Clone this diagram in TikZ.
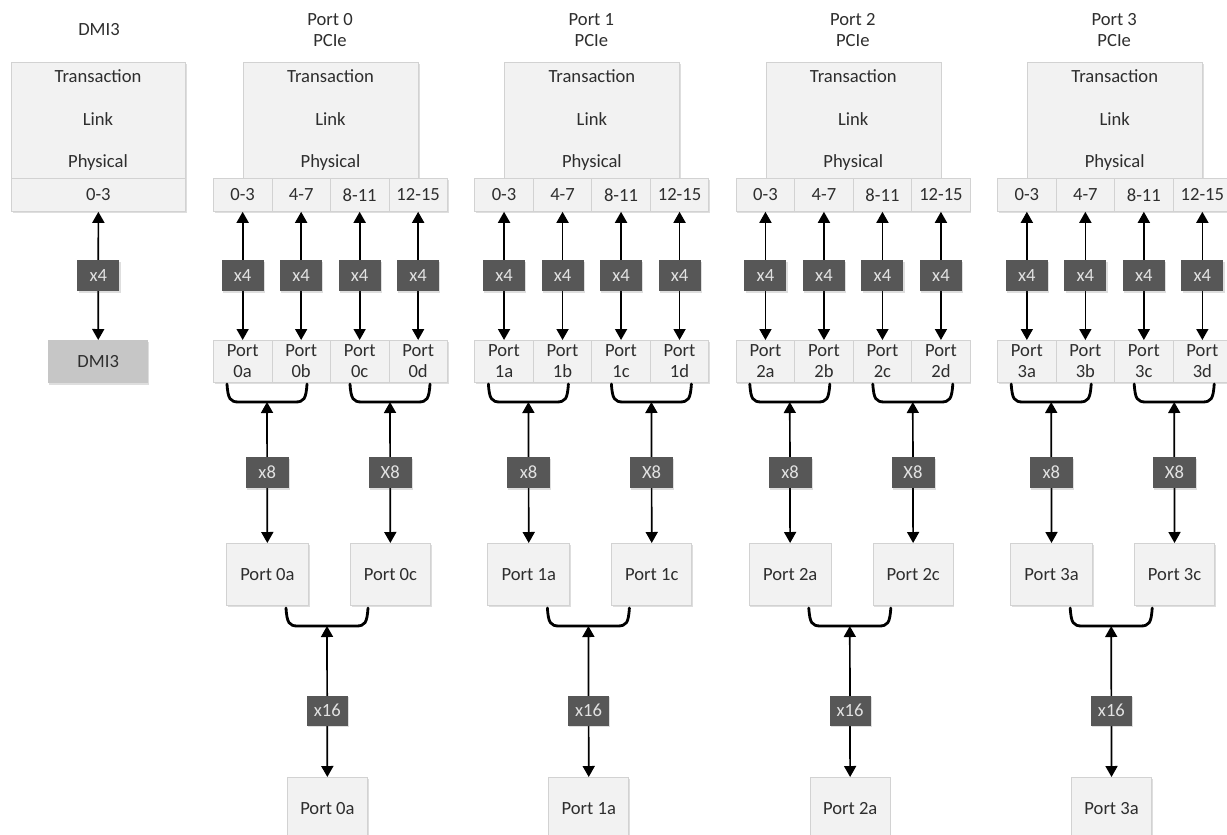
\documentclass[tikz,border=0pt]{standalone}
\usepackage{fontspec}
\setmainfont{Carlito}
\usetikzlibrary{arrows.meta,shadows,calc}
\definecolor{boxfill}{HTML}{F2F2F2}
\definecolor{boxline}{HTML}{D2D2D2}
\definecolor{tagfill}{HTML}{575757}
\definecolor{tagtext}{HTML}{E2E2E2}
\definecolor{dmifill}{HTML}{C6C6C6}
\definecolor{txt}{HTML}{2E2E2E}
% bracket joining two lanes: left x, right x, top y
\newcommand\brkt[3]{%
  \draw[brace] (#1,#3) .. controls ({#1+1},{#3+15}) and ({#1+3},{#3+18}) .. ({#1+12},{#3+18})
    -- ({#2-12},{#3+18}) .. controls ({#2-3},{#3+18}) and ({#2-1},{#3+15}) .. (#2,#3);}
\begin{document}
\begin{tikzpicture}[x=1pt,y=-1pt,
  every node/.style={text=txt, font=\fontsize{18.6}{21}\selectfont},
  title/.style={inner sep=0pt},
  shade/.style={drop shadow={opacity=0.18, shadow xshift=1.2pt, shadow yshift=-1.6pt, fill=black!70}},
  stack/.style={draw=boxline, fill=boxfill, line width=0.8pt, inner sep=0pt, anchor=north west, shade},
  cell/.style={draw=boxline, fill=boxfill, line width=0.8pt, inner sep=0pt, anchor=north west, shade},
  dmibox/.style={fill=dmifill, inner sep=0pt, anchor=north west, shade},
  tag/.style={fill=tagfill, text=tagtext, minimum width=42pt, minimum height=31pt, inner sep=0pt, shade},
  link/.style={line width=1.7pt, black, {Triangle[length=11pt,width=12pt]}-{Triangle[length=11pt,width=12pt]}},
  brace/.style={line width=2.8pt, black, line cap=round}
]
\useasboundingbox (0,0) rectangle (1227,835);
\fill[white] (0,0) rectangle (1227,835);

% DMI3 column
\node[title] (dt) at (99,30) {DMI3};
\node[stack, minimum width=174pt, minimum height=116pt] (ds) at (11,62) {};
\node (dtr) at (98,76) {Transaction};
\node (dlk) at (98,119) {Link};
\node (dph) at (98,163) {Physical};
\node[cell, minimum width=174pt, minimum height=33pt] (dl) at (11,178) {0-3};
\node[dmibox, minimum width=100pt, minimum height=43pt] (db) at (48,340) {DMI3};
\draw[link] (dl) -- (db);
\node[tag] (dx) at ($(dl.south)!0.5!(db.north)$) {x4};

% PCIe ports 0-3
\foreach \k in {0,...,3} {
\begin{scope}[xshift={\k*261.4pt}]
  \node[title] (pt\k) at (330,20) {Port \k};
  \node[title] (pc\k) at (330,41) {PCIe};
  \node[stack, minimum width=175pt, minimum height=116pt] (st\k) at (243,62) {};
  \node (tr\k) at (330.5,76) {Transaction};
  \node (lk\k) at (330.5,119) {Link};
  \node (ph\k) at (330.5,163) {Physical};
  \foreach \j/\lab [count=\i from 0] in {a/0-3,b/4-7,c/8-11,d/12-15} {
    \node[cell, minimum width=58.5pt, minimum height=33pt] (ln\k\j) at ({213+58.5*\i},178) {\lab};
    \node[cell, minimum width=58.5pt, minimum height=42pt, align=center] (pp\k\j) at ({213+58.5*\i},340) {Port\\\k\j};
    \draw[link] (ln\k\j) -- (pp\k\j);
    \node[tag] (xq\k\j) at ($(ln\k\j.south)!0.5!(pp\k\j.north)$) {x4};
  }
  % x8 level
  \brkt{227}{307}{384}
  \brkt{350}{430}{384}
  \coordinate (ba\k) at (267,402);
  \coordinate (bc\k) at (390,402);
  \node[cell, minimum width=82pt, minimum height=62pt] (qa\k) at (226,543) {Port \k a};
  \node[cell, minimum width=80pt, minimum height=62pt] (qc\k) at (350,543) {Port \k c};
  \draw[link] (ba\k) -- (qa\k);
  \draw[link] (bc\k) -- (qc\k);
  \node[tag, minimum width=43pt] (xa\k) at ($(ba\k)!0.5!(qa\k.north)$) {x8};
  \node[tag, minimum width=43pt] (xc\k) at ($(bc\k)!0.5!(qc\k.north)$) {X8};
  % x16 level
  \brkt{286}{368}{608}
  \coordinate (bm\k) at (327,626);
  \node[cell, minimum width=80pt, minimum height=62pt] (fa\k) at (287,777) {Port \k a};
  \draw[link] (bm\k) -- (fa\k);
  \node[tag, minimum width=41pt, minimum height=30pt] (xs\k) at ($(bm\k)!0.56!(fa\k.north)$) {x16};
\end{scope}
}
\end{tikzpicture}
\end{document}
